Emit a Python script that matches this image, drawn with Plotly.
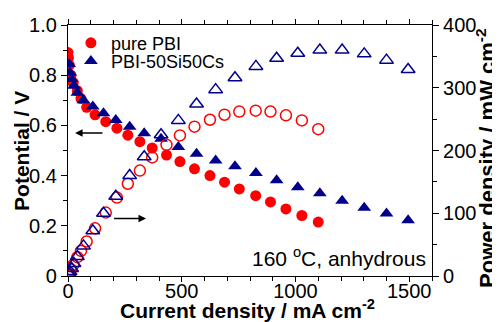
import plotly.graph_objects as go

# Pure PBI
pbi_i = [0, 2, 6, 13, 23, 41, 57, 82, 119, 166, 215, 263, 316, 370, 433, 492, 556, 624, 688, 753, 825, 890, 958, 1028, 1100]
pbi_v = [0.89, 0.87, 0.84, 0.80, 0.77, 0.738, 0.707, 0.672, 0.642, 0.615, 0.589, 0.561, 0.535, 0.51, 0.482, 0.456, 0.427, 0.40, 0.374, 0.347, 0.32, 0.295, 0.267, 0.241, 0.215]
pbi_p = [0, 1.7, 5, 10.4, 17.7, 30, 40, 55, 76, 101, 125, 147, 168, 189, 209, 224, 238, 249, 257, 262, 263.5, 262, 256, 248, 234]

# PBI-50Si50Cs
cs_i = [5, 9, 16, 26, 41, 68, 109, 156, 210, 271, 335, 409, 485, 565, 649, 734, 826, 917, 1010, 1107, 1205, 1302, 1400, 1495]
cs_v = [0.845, 0.81, 0.785, 0.758, 0.73, 0.70, 0.675, 0.648, 0.622, 0.595, 0.569, 0.547, 0.514, 0.487, 0.460, 0.437, 0.41, 0.381, 0.354, 0.33, 0.30, 0.272, 0.249, 0.222]
cs_p = [4, 7, 12, 20, 31, 48, 72, 100, 127, 160, 190, 225, 248, 274, 297, 316, 334, 347, 355, 360, 360, 354, 344, 329]

RED = "#ff0000"
BLUE = "#00008b"
FONT = "Arial, Liberation Sans, sans-serif"

fig = go.Figure()
fig.add_trace(go.Scatter(x=pbi_i, y=pbi_v, mode="markers", name="pure PBI", legend="legend",
                         marker=dict(symbol="circle", size=11, color=RED)))
fig.add_trace(go.Scatter(x=cs_i, y=cs_v, mode="markers", name="PBI-50Si50Cs", legend="legend2",
                         marker=dict(symbol="triangle-up", size=12, color=BLUE)))
fig.add_trace(go.Scatter(x=pbi_i, y=pbi_p, mode="markers", yaxis="y2", showlegend=False,
                         marker=dict(symbol="circle-open", size=11, color=RED, line=dict(width=1.5, color=RED))))
fig.add_trace(go.Scatter(x=cs_i, y=cs_p, mode="markers", yaxis="y2", showlegend=False,
                         marker=dict(symbol="triangle-up-open", size=12, color=BLUE, line=dict(width=1.5, color=BLUE))))

axis_common = dict(showline=True, linecolor="black", linewidth=1.2, ticks="outside",
                   tickwidth=1.2, tickcolor="black", showgrid=False, zeroline=False,
                   automargin=False, tickfont=dict(family=FONT, size=20, color="black"))

legend_common = dict(xanchor="left", yanchor="middle", bgcolor="rgba(0,0,0,0)",
                     font=dict(family=FONT, size=18, color="black"), itemwidth=30,
                     borderwidth=0)

# The page body has an 8px margin, so the figure is 8px smaller than the window.
fig.update_layout(
    width=492, height=314,
    margin=dict(l=60, r=68, t=17, b=46),
    plot_bgcolor="white", paper_bgcolor="white",
    font=dict(family=FONT, color="black"),
    xaxis=dict(range=[0, 1600], tickvals=[0, 500, 1000, 1500], mirror="ticks", ticklen=5,
               ticklabelstandoff=-8,
               minor=dict(dtick=100, ticks="outside", ticklen=4, tickcolor="black"),
               **axis_common),
    yaxis=dict(range=[0, 1.0], tickvals=[0, 0.2, 0.4, 0.6, 0.8, 1.0], ticklen=6,
               ticktext=["0", "0.2", "0.4", "0.6", "0.8", "1.0"],
               minor=dict(dtick=0.1, ticks="outside", ticklen=4, tickcolor="black"),
               **axis_common),
    yaxis2=dict(range=[0, 400], overlaying="y", side="right", tickvals=[0, 100, 200, 300, 400],
                ticklen=6,
                minor=dict(dtick=50, ticks="outside", ticklen=4, tickcolor="black"),
                **axis_common),
    legend=dict(x=0.008, y=0.928, **legend_common),
    legend2=dict(x=0.008, y=0.855, **legend_common),
    showlegend=True,
)

# axis titles
fig.add_annotation(x=0.492, y=-0.133, xref="paper", yref="paper", xanchor="center", yanchor="middle",
                   text="<b>Current density / mA cm<sup>-2</sup></b>", showarrow=False,
                   font=dict(family=FONT, size=21, color="black"))
fig.add_annotation(x=-0.128, y=0.50, xref="paper", yref="paper", xanchor="center", yanchor="middle",
                   text="<b>Potential / V</b>", showarrow=False, textangle=-90,
                   font=dict(family=FONT, size=21, color="black"))
fig.add_annotation(x=1.148, y=0.47, xref="paper", yref="paper", xanchor="center", yanchor="middle",
                   text="<b>Power density / mW cm<sup>-2</sup></b>", showarrow=False, textangle=-90,
                   font=dict(family=FONT, size=22, color="black"))

fig.add_annotation(x=31, y=0.570, ax=158, ay=0.570, xref="x", yref="y", axref="x", ayref="y",
                   showarrow=True, arrowhead=2, arrowsize=1, arrowwidth=1.5, arrowcolor="black", text="")
fig.add_annotation(x=343, y=0.229, ax=196, ay=0.229, xref="x", yref="y", axref="x", ayref="y",
                   showarrow=True, arrowhead=2, arrowsize=1, arrowwidth=1.5, arrowcolor="black", text="")
fig.add_annotation(x=0.99, y=0.015, xref="paper", yref="paper", xanchor="right", yanchor="bottom",
                   text="160 <sup>o</sup>C, anhydrous", showarrow=False,
                   font=dict(family=FONT, size=21, color="black"))

fig.write_html("out.html")
